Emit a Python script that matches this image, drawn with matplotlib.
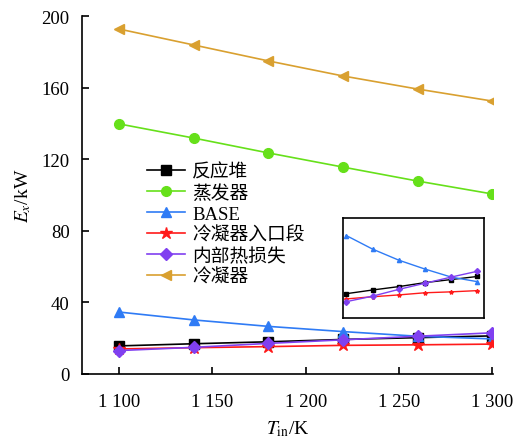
import matplotlib
matplotlib.use('Agg')
import matplotlib.pyplot as plt

plt.rcParams['font.family'] = ['Liberation Serif', 'Noto Sans CJK SC']
plt.rcParams['mathtext.fontset'] = 'stix'

# data
T_in = [1100, 1140, 1180, 1220, 1260, 1300]
reactor = [15.7, 16.9, 18.0, 19.3, 20.3, 21.3]
evaporator = [139.7, 131.8, 123.5, 115.6, 107.8, 100.6]
base = [34.6, 30.2, 26.6, 23.7, 21.1, 19.6]
cond_inlet = [14.0, 14.7, 15.3, 16.0, 16.3, 16.7]
internal = [13.1, 14.9, 17.1, 19.1, 21.1, 23.0]
condenser = [192.7, 183.8, 174.9, 166.5, 159.2, 152.5]

xticks = [1100, 1150, 1200, 1250, 1300]
xticklabels = ['1 100', '1 150', '1 200', '1 250', '1 300']
yticks = [0, 40, 80, 120, 160, 200]

series = [
    (reactor, '反应堆', 'black', 's'),
    (evaporator, '蒸发器', '#66e01a', 'o'),
    (base, 'BASE', '#2f7bf5', '^'),
    (cond_inlet, '冷凝器入口段', '#ff1a1a', '*'),
    (internal, '内部热损失', '#8040f0', 'D'),
    (condenser, '冷凝器', '#d9a030', '<'),
]

fig = plt.figure(figsize=(5.15, 4.39), dpi=100)
ax = fig.add_axes([82/515, 64/439, 411/515, 358/439])

for y, lab, col, mk in series:
    ms = 9 if mk == '*' else 7
    if mk == 'D':
        ms = 6.5
    ax.plot(T_in, y, color=col, marker=mk, markersize=ms, lw=1.2, label=lab)

ax.set_xlim(1080, 1300.5)
ax.set_ylim(0, 200)
ax.set_xticks(xticks)
ax.set_xticklabels(xticklabels)
ax.set_yticks(yticks)
ax.tick_params(direction='in', labelsize=13.5, length=5, width=1.2, pad=9)
ax.tick_params(axis='x', pad=14)
ax.spines['top'].set_visible(False)
ax.spines['right'].set_visible(False)
ax.spines['left'].set_linewidth(1.2)
ax.spines['bottom'].set_linewidth(1.2)
ax.set_xlabel(r'$T_\mathrm{in}$/K', fontsize=14, labelpad=6)
ax.set_ylabel(r'$E_x$/kW', fontsize=14, labelpad=6)

ax.legend(loc='upper left', bbox_to_anchor=(0.14, 0.61), frameon=False,
          fontsize=13.5, handlelength=2.0, labelspacing=0.2, borderaxespad=0,
          handletextpad=0.4)

# inset
axi = fig.add_axes([343/515, 120/439, 141/515, 100/439])
for y, lab, col, mk in series[:5]:
    if lab == '蒸发器':
        continue
    axi.plot(T_in, y, color=col, marker=mk, markersize=3, lw=1.0)
axi.set_xlim(1095, 1310)
axi.set_ylim(7.8, 40.3)
axi.set_xticks([])
axi.set_yticks([])
for s in axi.spines.values():
    s.set_linewidth(1.2)

fig.savefig('out.png', dpi=100)
